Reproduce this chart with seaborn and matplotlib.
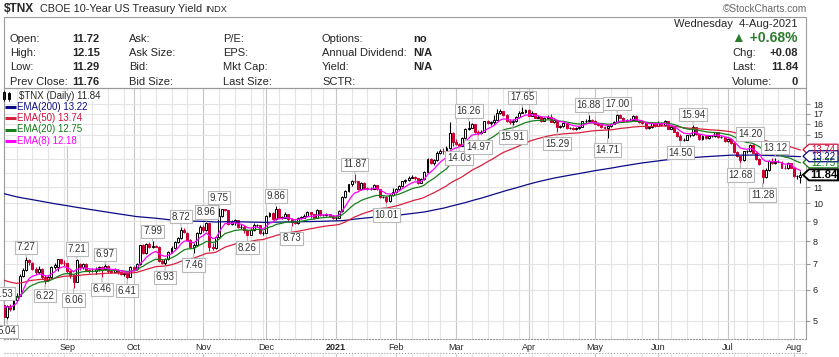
import numpy as np
import pandas as pd
import matplotlib
matplotlib.use("Agg")
from matplotlib import pyplot as plt
from matplotlib.patches import Rectangle, Polygon
from matplotlib.ticker import NullLocator
import seaborn as sns

# ---- daily candles, $TNX (yield x10), 4-Aug-2020 .. 4-Aug-2021 ----
# one line per month: Aug, Sep, Oct, Nov, Dec, Jan, Feb, Mar, Apr, May, Jun, Jul, Aug
opens = [
    5.50, 5.12, 5.46, 5.36, 5.65, 5.80, 6.52, 6.74, 7.15, 7.02, 6.78, 6.65, 6.80, 6.48, 6.35, 6.47, 6.88, 6.85, 7.18, 7.05,
    7.02, 6.70, 6.55, 6.30, 7.00, 6.85, 7.00, 6.75, 6.70, 6.72, 6.80, 6.88, 6.78, 6.92, 6.70, 6.68, 6.75, 6.68, 6.60, 6.62, 6.48,
    6.85, 6.80, 6.98, 7.80, 7.45, 7.85, 7.75, 7.78, 7.75, 7.10, 7.05, 7.20, 7.50, 7.70, 7.95, 8.15, 8.55, 8.40, 8.05, 7.75, 7.80, 8.40,
    8.70, 8.55, 8.90, 7.75, 7.70, 8.20, 9.30, 9.65, 9.60, 8.85, 8.95, 9.05, 8.70, 8.72, 8.55, 8.30, 8.55, 8.80, 8.80, 8.40,
    8.40, 9.30, 9.45, 9.10, 9.70, 9.20, 9.20, 9.40, 9.10, 8.95, 8.90, 9.20, 9.20, 9.30, 9.50, 9.40, 9.20, 9.60, 9.35, 9.35, 9.40, 9.30,
    9.15, 9.20, 9.55, 10.40, 10.75, 11.20, 11.45, 11.40, 10.90, 11.30, 10.95, 10.90, 10.90, 11.15, 10.90, 10.40, 10.40, 10.15, 10.50,
    10.70, 10.90, 11.10, 11.40, 11.50, 11.65, 11.70, 11.60, 11.30, 11.55, 12.05, 13.00, 12.70, 12.90, 13.45, 13.65, 13.60, 13.85, 15.20,
    14.40, 14.25, 14.08, 14.70, 15.50, 15.65, 15.95, 15.30, 15.20, 15.30, 16.25, 16.10, 16.20, 16.40, 17.10, 17.25, 16.90, 16.30, 16.15, 16.30, 16.65, 17.10, 17.20,
    17.40, 16.80, 17.05, 16.60, 16.70, 16.30, 16.60, 16.70, 16.20, 16.40, 15.70, 15.80, 16.05, 15.60, 15.60, 15.50, 15.60, 15.70, 16.25, 16.30, 16.40,
    16.30, 16.00, 15.90, 15.70, 15.60, 15.80, 16.00, 16.20, 16.90, 16.60, 16.30, 16.40, 16.40, 16.80, 16.30, 16.20, 16.10, 15.60, 15.70, 16.10,
    15.80, 16.10, 15.90, 16.30, 15.55, 15.70, 15.30, 14.90, 14.55, 14.55, 14.95, 14.95, 15.70, 15.10, 14.60, 14.90, 14.70, 14.90, 14.90, 15.25, 14.80, 14.80,
    14.45, 14.65, 14.30, 13.55, 13.20, 12.90, 13.60, 13.60, 14.15, 13.50, 13.00, 12.20, 11.70, 12.20, 12.85, 12.70, 12.80, 12.80, 12.35, 12.30, 12.70,
    12.35, 11.75, 11.72,
]
highs = [
    5.53, 5.50, 5.52, 5.70, 5.88, 6.58, 6.82, 7.27, 7.18, 7.06, 6.85, 6.90, 6.82, 6.55, 6.55, 6.92, 7.05, 7.20, 7.20, 7.15,
    7.05, 6.75, 6.60, 7.21, 7.05, 7.05, 7.02, 6.80, 6.82, 6.85, 6.92, 6.90, 6.97, 6.94, 6.80, 6.82, 6.78, 6.72, 6.68, 6.64, 6.90,
    6.92, 7.05, 7.82, 7.85, 7.92, 7.95, 7.99, 7.82, 7.76, 7.22, 7.25, 7.55, 7.78, 8.00, 8.22, 8.72, 8.65, 8.45, 8.08, 7.92, 8.45, 8.80,
    8.80, 8.96, 8.92, 7.90, 8.25, 9.75, 9.70, 9.70, 9.62, 9.05, 9.10, 9.06, 8.85, 8.78, 8.60, 8.65, 8.90, 8.88, 8.82, 8.50,
    9.35, 9.50, 9.48, 9.86, 9.72, 9.30, 9.48, 9.42, 9.15, 9.10, 9.25, 9.30, 9.38, 9.55, 9.52, 9.42, 9.65, 9.62, 9.42, 9.45, 9.42, 9.35,
    9.35, 9.60, 10.45, 10.85, 11.25, 11.50, 11.87, 11.45, 11.35, 11.32, 11.05, 11.00, 11.20, 11.18, 10.92, 10.48, 10.45, 10.58, 10.95,
    10.95, 11.15, 11.45, 11.55, 11.75, 11.85, 11.75, 11.62, 11.60, 12.10, 13.10, 13.05, 13.00, 13.60, 13.80, 13.90, 14.05, 16.14, 15.30,
    14.60, 14.30, 14.80, 15.60, 16.26, 16.10, 15.98, 15.45, 15.40, 16.30, 16.35, 16.30, 16.85, 17.50, 17.50, 17.30, 16.95, 16.45, 16.50, 16.75, 17.30, 17.65, 17.50,
    17.45, 17.30, 17.10, 16.90, 16.75, 16.70, 16.85, 16.95, 16.45, 16.42, 15.90, 16.10, 16.08, 15.75, 15.70, 15.70, 15.80, 16.30, 16.50, 16.88, 16.50,
    16.35, 16.05, 15.95, 15.80, 15.85, 16.10, 16.30, 17.00, 17.00, 16.65, 16.50, 16.55, 16.90, 16.82, 16.40, 16.25, 16.12, 15.80, 16.20, 16.15,
    16.25, 16.15, 16.35, 16.32, 15.80, 15.75, 15.35, 15.05, 14.70, 15.00, 15.05, 15.94, 15.75, 15.15, 14.95, 14.95, 14.95, 15.00, 15.30, 15.28, 14.90, 14.85,
    14.75, 14.70, 14.35, 13.60, 13.25, 13.65, 13.70, 14.20, 14.18, 13.55, 13.05, 12.25, 12.30, 12.95, 13.05, 13.12, 12.95, 12.85, 12.55, 12.75, 12.72,
    12.40, 11.85, 12.15,
]
lows = [
    5.10, 5.04, 5.30, 5.34, 5.60, 5.78, 6.48, 6.70, 6.96, 6.75, 6.58, 6.60, 6.40, 6.22, 6.32, 6.45, 6.80, 6.72, 6.98, 6.90,
    6.62, 6.45, 6.06, 6.28, 6.75, 6.80, 6.70, 6.62, 6.65, 6.60, 6.72, 6.46, 6.75, 6.62, 6.62, 6.64, 6.60, 6.56, 6.52, 6.41, 6.46,
    6.72, 6.75, 6.96, 7.40, 7.42, 7.70, 7.68, 7.72, 7.08, 7.00, 6.93, 7.15, 7.45, 7.66, 7.90, 8.10, 8.38, 8.00, 7.70, 7.46, 7.78, 8.35,
    8.45, 8.50, 7.55, 7.60, 7.65, 8.18, 9.25, 9.55, 8.80, 8.82, 8.80, 8.65, 8.60, 8.40, 8.26, 8.28, 8.52, 8.72, 8.35, 8.30,
    8.38, 9.22, 9.05, 9.05, 9.15, 9.12, 9.18, 9.00, 8.73, 8.85, 8.88, 9.10, 9.15, 9.28, 9.20, 9.15, 9.18, 9.30, 9.28, 9.30, 9.25, 9.10,
    9.05, 9.18, 9.52, 10.35, 10.70, 11.10, 11.30, 10.85, 10.85, 10.90, 10.85, 10.82, 10.88, 10.85, 10.35, 10.30, 10.01, 10.10, 10.45,
    10.62, 10.85, 11.05, 11.30, 11.45, 11.60, 11.50, 11.25, 11.28, 11.50, 12.00, 12.60, 12.55, 12.85, 13.40, 13.40, 13.35, 13.80, 14.05,
    14.10, 14.03, 14.05, 14.65, 15.45, 15.60, 15.20, 14.97, 15.10, 15.28, 15.95, 15.90, 15.95, 16.35, 17.00, 16.80, 16.20, 16.00, 15.91, 16.20, 16.60, 17.05, 17.10,
    16.75, 16.75, 16.55, 16.55, 16.20, 16.25, 16.55, 16.15, 16.10, 15.29, 15.65, 15.75, 15.55, 15.50, 15.45, 15.45, 15.55, 15.68, 16.10, 16.25, 16.20,
    15.95, 15.80, 15.65, 15.55, 14.71, 15.75, 15.95, 16.15, 16.55, 16.25, 16.25, 16.30, 16.35, 16.25, 16.10, 15.95, 15.55, 15.55, 15.65, 15.75,
    15.78, 15.85, 15.85, 15.50, 15.50, 15.25, 14.85, 14.50, 14.50, 14.52, 14.85, 14.90, 15.00, 14.52, 14.55, 14.65, 14.65, 14.80, 14.85, 14.75, 14.70, 14.40,
    14.40, 14.25, 13.50, 13.15, 12.68, 12.88, 13.45, 13.55, 13.45, 12.95, 12.55, 11.28, 11.65, 12.15, 12.60, 12.65, 12.75, 12.30, 12.25, 12.28, 12.30,
    11.70, 11.55, 11.29,
]
closes = [
    5.12, 5.46, 5.36, 5.65, 5.80, 6.52, 6.74, 7.15, 7.08, 6.78, 6.65, 6.80, 6.48, 6.35, 6.47, 6.88, 6.95, 7.18, 7.05, 7.02,
    6.70, 6.55, 6.30, 7.15, 6.85, 7.00, 6.75, 6.70, 6.72, 6.80, 6.88, 6.78, 6.92, 6.70, 6.68, 6.75, 6.68, 6.60, 6.62, 6.48, 6.85,
    6.80, 6.98, 7.80, 7.45, 7.85, 7.75, 7.78, 7.75, 7.10, 7.05, 7.20, 7.50, 7.70, 7.95, 8.15, 8.55, 8.45, 8.05, 7.75, 7.80, 8.40, 8.70,
    8.55, 8.90, 7.75, 7.70, 8.20, 9.30, 9.65, 9.60, 8.85, 8.95, 9.05, 8.70, 8.72, 8.55, 8.30, 8.55, 8.80, 8.80, 8.40, 8.40,
    9.30, 9.45, 9.10, 9.70, 9.20, 9.20, 9.40, 9.10, 8.95, 8.90, 9.20, 9.20, 9.30, 9.50, 9.40, 9.20, 9.60, 9.35, 9.35, 9.40, 9.30, 9.15,
    9.20, 9.55, 10.40, 10.75, 11.20, 11.45, 11.40, 10.90, 11.30, 10.95, 10.90, 10.90, 11.15, 10.90, 10.40, 10.40, 10.15, 10.50, 10.70,
    10.90, 11.10, 11.40, 11.50, 11.65, 11.70, 11.60, 11.30, 11.55, 12.05, 13.00, 12.70, 12.90, 13.45, 13.65, 13.60, 13.85, 15.20, 14.40,
    14.25, 14.08, 14.70, 15.50, 15.65, 15.95, 15.30, 15.20, 15.30, 16.25, 16.10, 16.20, 16.40, 17.10, 17.25, 16.90, 16.30, 16.15, 16.30, 16.65, 17.10, 17.20, 17.40,
    16.80, 17.05, 16.60, 16.70, 16.30, 16.60, 16.70, 16.20, 16.40, 15.70, 15.80, 16.05, 15.60, 15.60, 15.50, 15.60, 15.70, 16.25, 16.30, 16.40, 16.30,
    16.00, 15.90, 15.70, 15.60, 15.80, 16.00, 16.20, 16.90, 16.60, 16.30, 16.40, 16.40, 16.80, 16.30, 16.20, 16.10, 15.60, 15.70, 16.10, 15.80,
    16.10, 15.90, 16.30, 15.55, 15.70, 15.30, 14.90, 14.55, 14.55, 14.95, 14.95, 15.70, 15.10, 14.60, 14.90, 14.70, 14.90, 14.90, 15.25, 14.80, 14.80, 14.45,
    14.65, 14.30, 13.55, 13.20, 12.90, 13.60, 13.60, 14.15, 13.50, 13.00, 12.60, 11.70, 12.20, 12.85, 12.70, 12.80, 12.80, 12.35, 12.30, 12.70, 12.35,
    11.75, 11.76, 11.84,
]

market_holidays = ["2020-09-07", "2020-11-26", "2020-12-25", "2021-01-01", "2021-01-18",
                   "2021-02-15", "2021-04-02", "2021-05-31", "2021-07-05"]

# EMA values at the left edge of the chart, and legend values
ema_spans = [200, 50, 20, 8]
ema_start = [10.65, 6.40, 5.85, 5.50]
ema_last = [13.22, 13.74, 12.75, 12.18]
ema_colors = ["#0b0b86", "#d8203f", "#17801a", "#ff00ff"]
ema_text_colors = ["#0b0b86", "#d0103a", "#0f7a12", "#ff00ff"]

# swing labels on the chart: bar number, value, above/below
label_idx = [0, 1, 7, 13, 22, 23, 31, 32, 39, 47, 51, 56, 60, 64, 68, 77, 86, 91, 111, 121,
             144, 147, 150, 161, 164, 175, 185, 191, 194, 214, 218, 233, 236, 240, 244]
label_vals = [5.53, 5.04, 7.27, 6.22, 6.06, 7.21, 6.46, 6.97, 6.41, 7.99, 6.93, 8.72, 7.46, 8.96, 9.75, 8.26, 9.86, 8.73, 11.87, 10.01,
              14.03, 16.26, 14.97, 15.91, 17.65, 15.29, 16.88, 14.71, 17.00, 14.50, 15.94, 12.68, 14.20, 11.28, 13.12]
label_kind = ["hi", "lo", "hi", "lo", "lo", "hi", "lo", "hi", "lo", "hi", "lo", "hi", "lo", "hi", "hi", "lo", "hi", "lo", "hi", "lo",
              "lo", "hi", "lo", "lo", "hi", "lo", "hi", "lo", "hi", "lo", "hi", "lo", "hi", "lo", "hi"]

month_names = ["Sep", "Oct", "Nov", "Dec", "2021", "Feb", "Mar", "Apr", "May", "Jun", "Jul", "Aug"]
price_ticks = [5, 6, 7, 8, 9, 10, 11, 12, 13, 14, 15, 16, 17, 18]

info_labels = [["Open:", "High:", "Low:", "Prev Close:"],
               ["Ask:", "Ask Size:", "Bid:", "Bid Size:"],
               ["P/E:", "EPS:", "Mkt Cap:", "Last Size:"],
               ["Options:", "Annual Dividend:", "Yield:", "SCTR:"]]
info_values = ["11.72", "12.15", "11.29", "11.76"]
option_values = ["no", "N/A", "N/A", ""]
right_labels = ["Chg:", "Last:", "Volume:"]
right_values = ["+0.08", "11.84", "0"]

# ---- build frame ----
dates = pd.bdate_range("2020-08-04", "2021-08-04")
dates = dates[~dates.isin(pd.to_datetime(market_holidays))]
df = pd.DataFrame({"date": dates, "open": opens, "high": highs, "low": lows, "close": closes})
df["i"] = np.arange(len(df))
for span, start in zip(ema_spans, ema_start):
    s = pd.Series([start] + closes)
    df[f"ema{span}"] = s.ewm(span=span, adjust=False).mean().iloc[1:].to_numpy()

month_pos = df.groupby(df.date.dt.to_period("M"))["i"].min().to_numpy()[1:]
week_pos = df.groupby(df.date.dt.to_period("W"))["i"].min().to_numpy()

sns.set_style("white")
plt.rcParams["font.family"] = ["Liberation Sans", "DejaVu Sans"]

W, H = 839, 357
fig = plt.figure(figsize=(W / 100, H / 100), dpi=100)
fig.patch.set_facecolor("white")


def frac(x0, y0, x1, y1):
    return [x0 / W, 1 - y1 / H, (x1 - x0) / W, (y1 - y0) / H]


ax = fig.add_axes(frac(4, 88, 806, 339))
ax.set_yscale("log")
ax.set_ylim(4.486, 19.79)
ax.set_xlim(0.757, 253.75)

# grid
ax.set_xticks(month_pos)
ax.set_xticklabels(month_names)
ax.set_xticks(week_pos, minor=True)
ax.set_yticks(price_ticks)
ax.set_yticklabels([str(t) for t in price_ticks])
ax.yaxis.set_minor_locator(NullLocator())
ax.yaxis.tick_right()
ax.grid(True, which="major", axis="x", color="#c6c6c6", lw=0.8)
ax.grid(True, which="minor", axis="x", color="#e4e4e4", lw=0.8)
ax.grid(True, which="major", axis="y", color="#e4e4e4", lw=0.8)
ax.set_axisbelow(True)
ax.tick_params(axis="x", which="both", length=0, labelsize=6.5, pad=3)
ax.tick_params(axis="y", which="major", length=3, color="#999999", labelsize=6.5, pad=2)
for lab in ax.get_xticklabels():
    if lab.get_text() == "2021":
        lab.set_fontweight("bold")
for side in ["left", "right", "top", "bottom"]:
    ax.spines[side].set_color("#9a9a9a")
    ax.spines[side].set_linewidth(0.8)
ax.spines["bottom"].set_linestyle(":")

# candles
red = "#cc0033"
prev = df["close"].shift(1).fillna(df["open"])
edge = np.where(df["close"] >= prev, "black", red)
up = df["close"] >= df["open"]
ax.vlines(df["i"], df["low"], df["high"], colors=edge, lw=0.8, zorder=2)
ax.bar(df["i"], (df["close"] - df["open"]).abs().clip(lower=0.01), bottom=np.minimum(df["open"], df["close"]),
       width=0.62, color=np.where(up, "white", edge), edgecolor=edge, linewidth=0.7, zorder=3)

# moving averages
for span, c in zip(ema_spans, ema_colors):
    sns.lineplot(data=df, x="i", y=f"ema{span}", color=c, lw=0.9, ax=ax, zorder=4)
ax.set_xlabel("")
ax.set_ylabel("")

# swing labels (the first two run off the left edge of the picture, as in the original)
for i, v, kind in zip(label_idx, label_vals, label_kind):
    dy = 7.2 if kind == "hi" else -8.6
    ax.annotate(f"{v:.2f}", xy=(i, v), xytext=(0, dy), textcoords="offset points",
                ha="center", va="center", fontsize=7, color="#333333",
                bbox=dict(boxstyle="square,pad=0.18", fc="white", ec="#b8b8b8", lw=0.8),
                arrowprops=dict(arrowstyle="-", color="#b8b8b8", lw=0.8, shrinkA=0, shrinkB=0.5),
                annotation_clip=False, zorder=6)

# overlay in pixel coordinates for the header, legend and price tags
ov = fig.add_axes([0, 0, 1, 1])
ov.set_xlim(0, W)
ov.set_ylim(H, 0)
ov.axis("off")
ov.patch.set_alpha(0)

ov.text(4, 9, "$TNX", fontsize=8.6, fontweight="bold", va="center")
ov.text(40, 9, "CBOE 10-Year US Treasury Yield", fontsize=7.8, va="center")
ov.text(205, 9.5, "INDX", fontsize=6.6, va="center")
ov.text(807, 9, "\u00a9StockCharts.com", fontsize=7.3, color="#666666", va="center", ha="right")
ov.add_patch(Rectangle((4, 17), 802, 71, fill=False, ec="#9a9a9a", lw=0.8))

rows = [38.5, 53, 67.5, 82]
cols = [10, 129, 223, 322]
for col_x, labels in zip(cols, info_labels):
    for y, s in zip(rows, labels):
        ov.text(col_x, y, s, fontsize=8, va="center")
for y, s in zip(rows, info_values):
    ov.text(72, y, s, fontsize=8, fontweight="bold", va="center")
for y, s in zip(rows, option_values):
    ov.text(413, y, s, fontsize=8, fontweight="bold", va="center")
ov.text(798, 24, "Wednesday  4-Aug-2021", fontsize=8, va="center", ha="right")
ov.text(798, 38.5, "\u25b2 +0.68%", fontsize=10, fontweight="bold", color="#2b7d2b", va="center", ha="right")
for y, lab, val in zip(rows[1:], right_labels, right_values):
    ov.text(732, y, lab, fontsize=8, va="center")
    ov.text(798, y, val, fontsize=8, fontweight="bold", va="center", ha="right")

# chart legend
ov.add_patch(Rectangle((3, 92), 2.2, 7, fc="white", ec="black", lw=0.7))
ov.add_patch(Rectangle((7.5, 93), 2.2, 6, fc="black", ec="black", lw=0.7))
ov.plot([4.1, 4.1], [90.5, 101], color="black", lw=0.6)
ov.plot([8.6, 8.6], [91.5, 100.5], color="black", lw=0.6)
ov.text(19, 96, "$TNX (Daily) 11.84", fontsize=7, va="center",
        bbox=dict(boxstyle="square,pad=0.05", fc="white", ec="none"))
for k, (span, c, tc, last) in enumerate(zip(ema_spans, ema_colors, ema_text_colors, ema_last)):
    y = 107.3 + 11.1 * k
    ov.plot([5, 16], [y, y], color=c, lw=2.2, solid_capstyle="butt")
    ov.text(17, y, f"EMA({span}) {last:.2f}", fontsize=7, color=tc, va="center",
            bbox=dict(boxstyle="square,pad=0.05", fc="white", ec="none"))

# price tags on the right axis (they overlap in the original too)
fig.canvas.draw()


def tag(value, color, text, bold=False):
    y = H - ax.transData.transform((0, value))[1]
    pts = [(803, y), (809, y - 5.5), (838, y - 5.5), (838, y + 5.5), (809, y + 5.5)]
    ov.add_patch(Polygon(pts, closed=True, fc="white", ec=color, lw=1.4 if bold else 0.9))
    ov.text(823.5, y + 0.3, text, fontsize=8 if bold else 7, fontweight="bold" if bold else "normal",
            color=color, ha="center", va="center")


tag(ema_last[1], ema_text_colors[1], f"{ema_last[1]:.2f}")
tag(ema_last[2], ema_text_colors[2], f"{ema_last[2]:.2f}")
tag(ema_last[0], ema_text_colors[0], f"{ema_last[0]:.2f}")
tag(closes[-1], "black", f"{closes[-1]:.2f}", bold=True)

# x-axis band and the top of the next panel
ov.plot([4, 806], [353, 353], color="#9a9a9a", lw=0.8, ls=":")
for p in week_pos:
    xd = ax.transData.transform((p, 10))[0]
    if 4 < xd < 806:
        ov.plot([xd, xd], [354, 357], color="#c6c6c6" if p in month_pos else "#e4e4e4", lw=0.8)

fig.savefig("out.png", dpi=100)
